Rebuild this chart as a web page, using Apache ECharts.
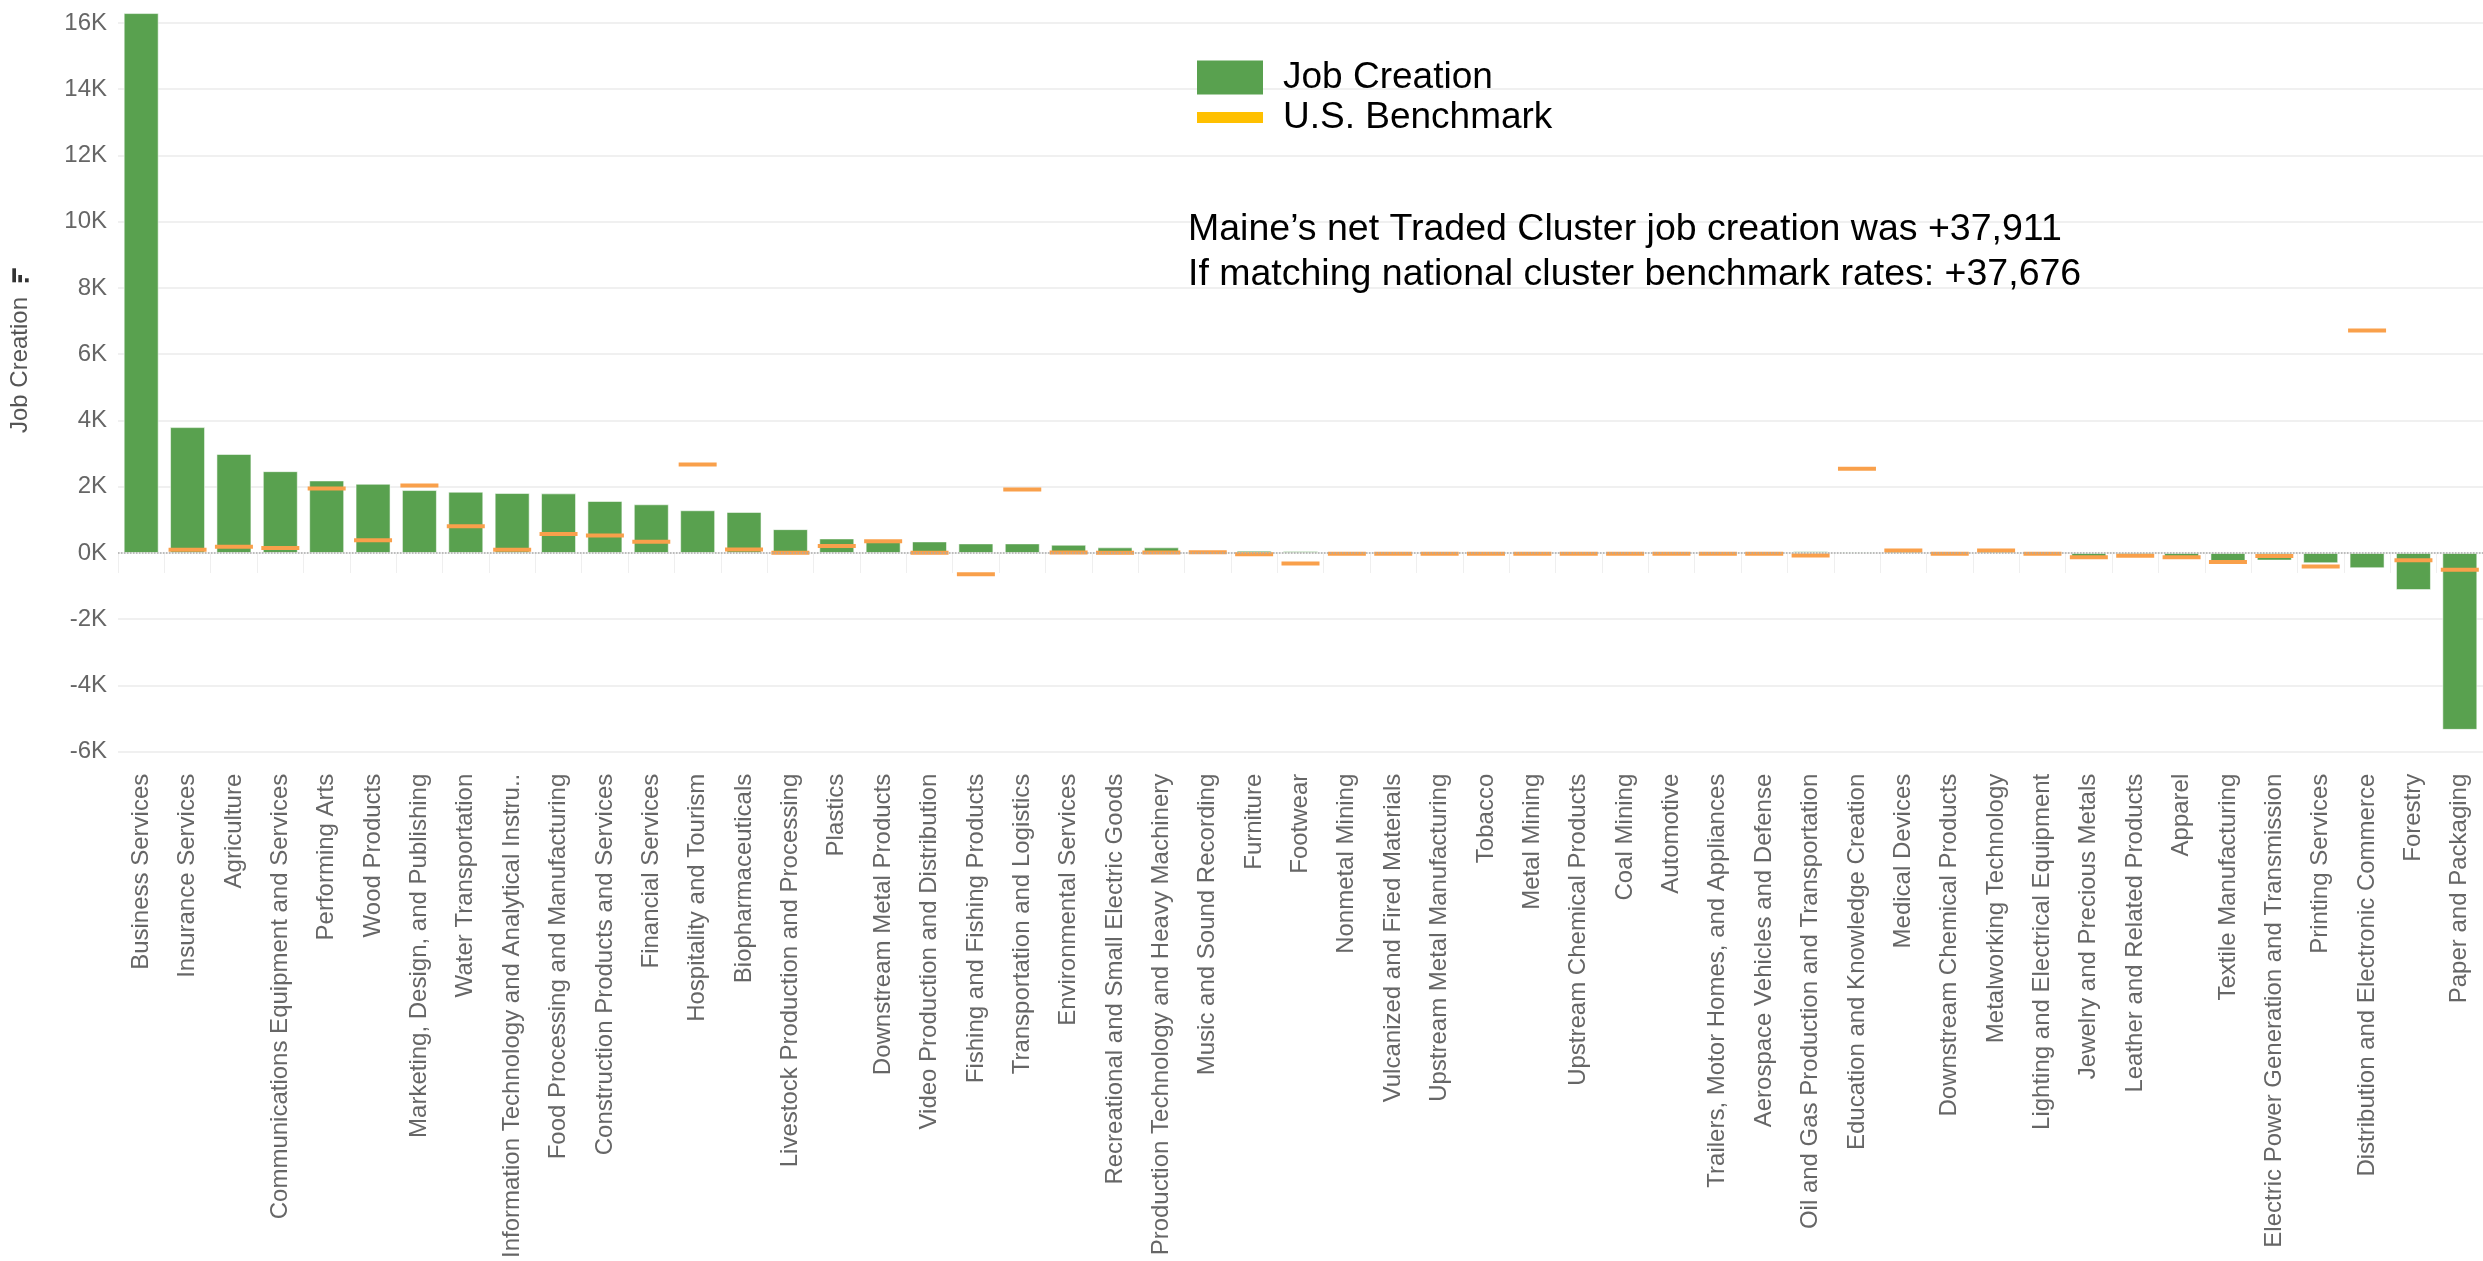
<!DOCTYPE html>
<html>
<head>
<meta charset="utf-8">
<script src="https://cdn.jsdelivr.net/npm/echarts@6/dist/echarts.min.js"></script>
<style>
html,body{margin:0;padding:0;background:#fff;}
#chart{width:2483px;height:1261px;}
</style>
</head>
<body>
<div id="chart"></div>
<script>
const categories = [
  "Business Services","Insurance Services","Agriculture","Communications Equipment and Services",
  "Performing Arts","Wood Products","Marketing, Design, and Publishing","Water Transportation",
  "Information Technology and Analytical Instru..","Food Processing and Manufacturing",
  "Construction Products and Services","Financial Services","Hospitality and Tourism",
  "Biopharmaceuticals","Livestock Production and Processing","Plastics","Downstream Metal Products",
  "Video Production and Distribution","Fishing and Fishing Products","Transportation and Logistics",
  "Environmental Services","Recreational and Small Electric Goods",
  "Production Technology and Heavy Machinery","Music and Sound Recording","Furniture","Footwear",
  "Nonmetal Mining","Vulcanized and Fired Materials","Upstream Metal Manufacturing","Tobacco",
  "Metal Mining","Upstream Chemical Products","Coal Mining","Automotive",
  "Trailers, Motor Homes, and Appliances","Aerospace Vehicles and Defense",
  "Oil and Gas Production and Transportation","Education and Knowledge Creation","Medical Devices",
  "Downstream Chemical Products","Metalworking Technology","Lighting and Electrical Equipment",
  "Jewelry and Precious Metals","Leather and Related Products","Apparel","Textile Manufacturing",
  "Electric Power Generation and Transmission","Printing Services",
  "Distribution and Electronic Commerce","Forestry","Paper and Packaging"
];
const jobCreation = [
  16300, 3800, 2990, 2470, 2190, 2090, 1900, 1850, 1810, 1800, 1570, 1470, 1290, 1240, 720, 440,
  330, 350, 290, 290, 250, 170, 170, 10, 70, 60,
  0, 0, 0, 0, 0, 0, 0, 0, 0, 0,
  50, 40, 60, 0, 60, 0, -180, -110, -180, -320, -230, -310, -460, -1120, -5340
];
const usBenchmark = [
  18970, 100, 190, 150, 1950, 385, 2040, 810, 100, 575, 530, 340, 2670, 105, 5, 210,
  355, 10, -645, 1915, 15, 10, 15, 20, -35, -315,
  -20, -20, -20, -20, -20, -20, -20, -20, -20, -20,
  -75, 2540, 75, -20, 75, -25, -130, -80, -130, -270, -90, -410, 6720, -220, -505
];
const yTicks = { min: -6000, max: 16000, interval: 2000 };
const noteLines = [
  "Maine\u2019s net Traded Cluster job creation was +37,911",
  "If matching national cluster benchmark rates: +37,676"
];

const FONT = '"Liberation Sans", Arial, Helvetica, sans-serif';
const chart = echarts.init(document.getElementById('chart'));

chart.setOption({
  animation: false,
  backgroundColor: '#ffffff',
  textStyle: { fontFamily: FONT },
  grid: { left: 118, right: -15, top: 23, bottom: 500.5, containLabel: false },
  legend: [
    {
      data: [{ name: 'Job Creation', icon: 'rect', itemStyle: { color: '#59A14F', borderWidth: 0 } }],
      orient: 'vertical', left: 1192, top: 54,
      itemWidth: 66, itemHeight: 34,
      selectedMode: false, z: 50,
      textStyle: { fontSize: 37, color: '#000', fontFamily: FONT, padding: [0, 0, 0, 15] }
    },
    {
      data: [{ name: 'U.S. Benchmark', icon: 'rect', itemStyle: { color: '#FFC000', borderWidth: 0 } }],
      orient: 'vertical', left: 1192, top: 94,
      itemWidth: 66, itemHeight: 11,
      selectedMode: false, z: 50,
      textStyle: { fontSize: 37, color: '#000', fontFamily: FONT, padding: [0, 0, 0, 15] }
    }
  ],
  xAxis: {
    type: 'category',
    data: categories,
    axisLine: { show: false },
    axisTick: { show: true, length: 20, lineStyle: { color: '#efefef', width: 1 } },
    axisLabel: {
      rotate: 90, interval: 0, margin: 22, fontSize: 24, color: '#666666', fontFamily: FONT
    },
    splitLine: { show: false }
  },
  yAxis: {
    type: 'value',
    min: yTicks.min, max: yTicks.max, interval: yTicks.interval,
    axisLine: { show: false },
    axisTick: { show: false },
    axisLabel: {
      fontSize: 24, color: '#666666', margin: 11, fontFamily: FONT,
      formatter: v => (v / 1000) + 'K'
    },
    splitLine: { show: true, lineStyle: { color: '#f0f0f0', width: 2 } }
  },
  series: [
    {
      name: 'zero',
      type: 'line',
      data: [],
      z: 1,
      silent: true,
      markLine: {
        silent: true, symbol: 'none', animation: false,
        label: { show: false },
        lineStyle: { type: 'dotted', color: '#aaaaaa', width: 1.5 },
        data: [{ yAxis: 0 }]
      }
    },
    {
      name: 'Job Creation',
      type: 'bar',
      data: jobCreation,
      barWidth: 35,
      clip: false,
      z: 2,
      itemStyle: { color: '#59A14F', borderColor: 'rgba(255,255,255,0.55)', borderWidth: 1 }
    },
    {
      name: 'U.S. Benchmark',
      type: 'scatter',
      data: usBenchmark,
      symbol: 'rect',
      symbolSize: [38, 4],
      z: 3,
      itemStyle: { color: '#F9A04B', opacity: 1 }
    }
  ],
  graphic: [
    {
      type: 'text', x: 20, y: 365, rotation: Math.PI / 2, z: 100,
      style: { text: 'Job Creation', fontSize: 24, fill: '#555555', fontFamily: FONT, align: 'center', verticalAlign: 'middle' }
    },
    { type: 'rect', z: 100, shape: { x: 12.3, y: 268.3, width: 3.7, height: 14 }, style: { fill: '#333333' } },
    { type: 'rect', z: 100, shape: { x: 18.3, y: 275, width: 3.7, height: 7.3 }, style: { fill: '#333333' } },
    { type: 'rect', z: 100, shape: { x: 25, y: 278.3, width: 3.7, height: 4 }, style: { fill: '#333333' } },
    {
      type: 'text', x: 1188, y: 229.5, z: 100,
      style: { text: noteLines[0], fontSize: 37.5, fill: '#000000', fontFamily: FONT, verticalAlign: 'middle' }
    },
    {
      type: 'text', x: 1188, y: 275, z: 100,
      style: { text: noteLines[1], fontSize: 37.5, fill: '#000000', fontFamily: FONT, verticalAlign: 'middle' }
    }
  ]
});
</script>
</body>
</html>
